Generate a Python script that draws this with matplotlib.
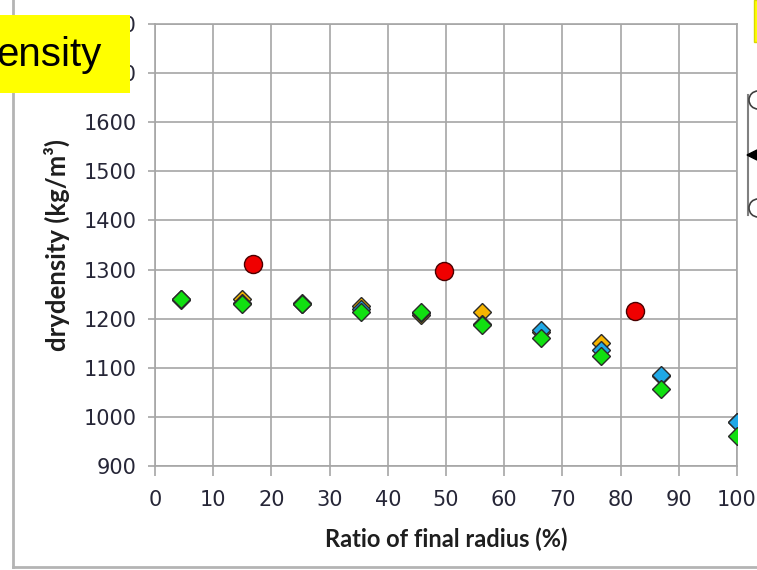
import numpy as np
import matplotlib.pyplot as plt
from matplotlib.patches import Rectangle, Circle, Polygon
from matplotlib.lines import Line2D

# positions along the radius (%)
ratio = [4.5, 14.9, 25.2, 35.4, 45.7, 56.1, 66.4, 76.7, 86.9, 100.0]

# dry density series (kg/m3)
orange_vals = [1240, 1240, 1231, 1226, 1207, 1213, 1172, 1150, 1083, 990]
blue_vals = [1237, 1232, 1229, 1219, 1212, 1190, 1177, 1136, 1085, 990]
green_vals = [1240, 1230, 1230, 1214, 1214, 1187, 1160, 1124, 1056, 961]

red_ratio = [16.8, 49.7, 82.4]
red_vals = [1311, 1298, 1216]

xticks = list(range(0, 101, 10))
yticks = list(range(900, 1801, 100))

W, H = 757, 570
fig = plt.figure(figsize=(W / 100, H / 100), dpi=100)
ax = fig.add_axes([155 / W, 1 - 466 / H, (737 - 155) / W, (466 - 24) / H])

grid_c = '#a6a6a6'
ax.set_xlim(0, 100)
ax.set_ylim(900, 1800)
ax.set_xticks(xticks)
ax.set_yticks(yticks)
ax.grid(True, color=grid_c, linewidth=1.2)
ax.set_axisbelow(True)
for s in ax.spines.values():
    s.set_color(grid_c)
    s.set_linewidth(1.2)
ax.tick_params(axis='both', colors=grid_c, labelcolor='#262637',
               labelsize=15, width=1.2)
ax.tick_params(axis='y', length=5, pad=8)
ax.tick_params(axis='x', length=7, pad=10)

edge = '#2a2a2a'
ax.plot(ratio, orange_vals, 'D', ms=9.5, mfc='#f5b400', mec=edge, mew=1.0, zorder=3)
ax.plot(ratio, blue_vals, 'D', ms=9.5, mfc='#1fa8e6', mec=edge, mew=1.0, zorder=4)
ax.plot(ratio, green_vals, 'D', ms=9.5, mfc='#11e011', mec=edge, mew=1.0, zorder=5)
ax.plot(red_ratio, red_vals, 'o', ms=13, mfc='#f00000', mec='#4a0000', mew=1.0, zorder=6)

ax.set_xlabel('Ratio of final radius (%)', family='Lato', weight='bold',
              fontsize=17, color='#1e1e1e', labelpad=13)
ax.set_ylabel('drydensity (kg/m³)', family='Lato', weight='bold',
              fontsize=18.5, color='#1e1e1e', labelpad=10)

# outer chart border (left and bottom visible)
fig.add_artist(Line2D([13 / W, 13 / W], [1 - 567 / H, 1.0], color='#b4b4b4',
                      lw=2, transform=fig.transFigure))
fig.add_artist(Line2D([13 / W, 1.0], [1 - 567 / H, 1 - 567 / H], color='#b4b4b4',
                      lw=2, transform=fig.transFigure))

# yellow label box, top left
fig.add_artist(Rectangle((0, 1 - 93 / H), 130 / W, (93 - 15) / H,
                         facecolor='#ffff00', edgecolor='none',
                         transform=fig.transFigure, zorder=10))
fig.text(-4 / W, 1 - 55 / H, 'ensity', family='Liberation Sans', fontsize=29,
         color='black', va='center', ha='left', zorder=11)

# yellow box edge, top right
fig.add_artist(Rectangle((754 / W, 1 - 42 / H), 10 / W, 42 / H,
                         facecolor='#ffff00', edgecolor='#d8d800', lw=1,
                         transform=fig.transFigure, zorder=10))

# connector shape on the right edge
fig.add_artist(Line2D([748 / W, 748 / W], [1 - 215 / H, 1 - 95 / H],
                      color='#808080', lw=1.5, transform=fig.transFigure))
for cy in (100, 208):
    fig.add_artist(Circle((758, H - cy), 9, transform=None, facecolor='white',
                          edgecolor='#404040', lw=1.2, zorder=9))
fig.add_artist(Polygon([[747, H - 155], [757, H - 150], [757, H - 160]],
                       closed=True, transform=None, facecolor='black',
                       edgecolor='black', zorder=9))

fig.savefig('out.png', dpi=100)
